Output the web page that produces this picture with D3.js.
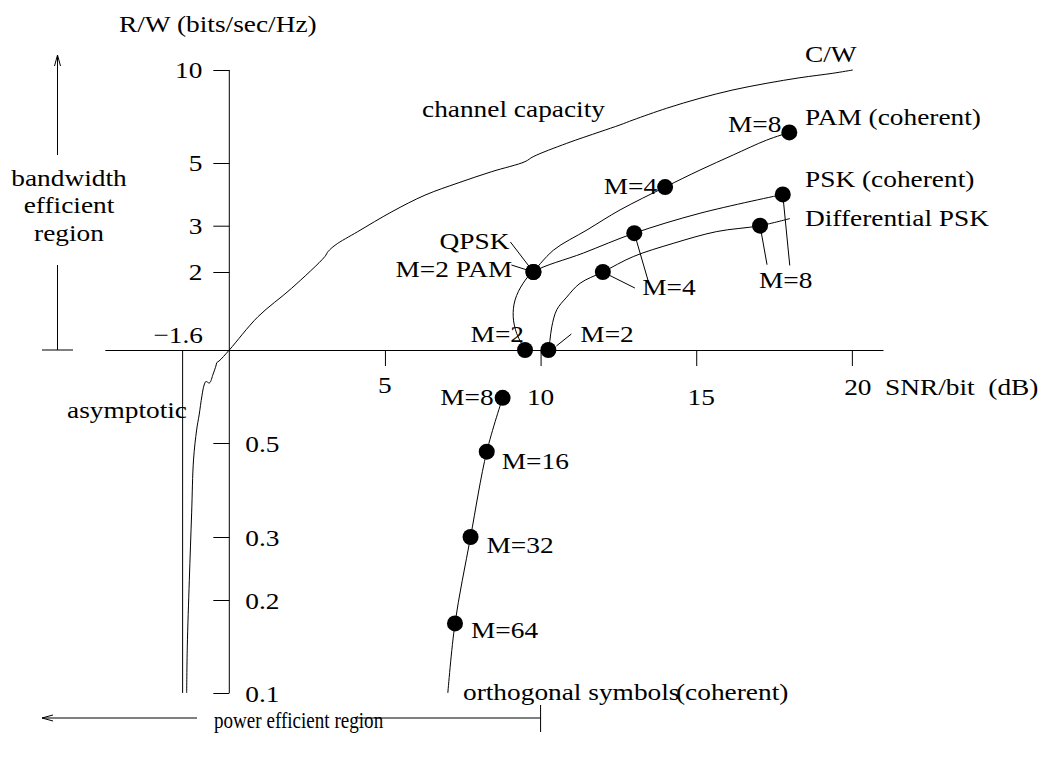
<!DOCTYPE html>
<html><head><meta charset="utf-8">
<script src="https://cdn.jsdelivr.net/npm/d3@7"></script>
<style>
body{margin:0;background:#fff;}
svg{display:block;}
text{font-family:"Liberation Serif","Times New Roman",serif;font-size:24px;fill:#000;white-space:pre;}
</style></head><body>
<svg id="chart" width="1061" height="758"></svg>
<script>
// ---------------- data ----------------
const capacitySNR = [-1.37,-1.35,-1.285,-1.21,-1.15,-1.05,-0.97,-0.88,-0.81,-0.75,-0.64,-0.52,-0.43,-0.40,-0.33,0,
  0.92,2.0,3.07,3.17,3.40,4.13,5.22,6.29,7.35,8.43,9.50,9.76,10.84,11.91,12.55,12.97,14.05,15.12,16.18,17.27,18.33,19.39,20.03];
const capacityRW  = [0.1,0.141,0.227,0.342,0.456,0.551,0.616,0.71,0.77,0.791,0.782,0.836,0.888,0.911,0.921,1,
  1.344,1.73,2.29,2.39,2.53,2.85,3.36,3.85,4.25,4.66,5.05,5.24,5.79,6.31,6.64,6.89,7.52,8.10,8.62,9.06,9.44,9.76,10];
const asymptoteSNR = -1.5;

const pamSNR = [9.77,10.41,11.49,12.55,14.0,15.12,16.19,17.26,17.99];
const pamRW  = [2,2.42,2.89,3.41,4.11,4.72,5.31,5.93,6.28];
const pamDotSNR = [9.77,14.0,17.99];
const pamDotRW  = [2,4.11,6.28];

const pskSNR = [9.50,9.23,9.12,9.18,9.44,9.77,11.37,13.01,15.12,17.78];
const pskRW  = [1,1.16,1.344,1.56,1.81,2,2.36,2.81,3.32,3.87];
const pskDotSNR = [9.50,9.77,13.01,17.78];
const pskDotRW  = [1,2,2.81,3.87];

const dpskSNR = [10.25,10.30,10.36,10.52,10.84,11.27,12.0,12.98,14.26,15.66,17.05,18.01];
const dpskRW  = [1,1.09,1.23,1.43,1.60,1.81,2,2.29,2.57,2.85,3.0,3.18];
const dpskDotSNR = [10.25,12.0,17.05];
const dpskDotRW  = [1,2,3.0];

const orthSNR = [8.78,8.27,7.75,7.25,7.02];
const orthRW  = [0.70,0.477,0.30,0.168,0.1];
const orthDotSNR = [8.78,8.27,7.75,7.25];
const orthDotRW  = [0.70,0.477,0.30,0.168];

const xTickValues = [5,10,15,20];
const xTickLabels = ["5","10","15","20"];
const yTickValues = [10,5,3,2,0.5,0.3,0.2,0.1];
const yTickLabels = ["10","5","3","2","0.5","0.3","0.2","0.1"];

// ---------------- layout ----------------
const svg = d3.select("#chart");
const x = d3.scaleLinear().domain([-4,21]).range([104.8,883]);
const y = d3.scaleLog().domain([0.1,0.2,0.3,0.5,1,2,3,5,10]).range([693,600,537,443,350,272,225.7,163,70]);
const SX = 1.14;
const INK = "#000";

function label(px, py, str, anchor, size, sx){
  svg.append("text")
    .attr("transform", `translate(${px},${py}) scale(${sx===undefined?SX:sx},1)`)
    .attr("text-anchor", anchor || "start")
    .style("font-size", (size||24)+"px")
    .text(str);
}
function seg(x1,y1,x2,y2){
  svg.append("line").attr("x1",x1).attr("y1",y1).attr("x2",x2).attr("y2",y2)
    .attr("stroke",INK).attr("stroke-width",1);
}

// x axis
const xAxis = d3.axisBottom(x).tickValues(xTickValues).tickSize(16).tickSizeOuter(0).tickFormat("");
const gx = svg.append("g").attr("transform",`translate(0,${y(1)})`).call(xAxis);
gx.selectAll("path,line").attr("stroke",INK);
const xLabelNudge = [[0,43],[0,55],[5,55],[6,45]];
xTickValues.forEach((v,i)=> label(x(v)+xLabelNudge[i][0], y(1)+xLabelNudge[i][1], xTickLabels[i], "middle"));

// y axis
const yAxis = d3.axisLeft(y).tickValues(yTickValues).tickSize(16).tickSizeOuter(0).tickFormat("");
const gy = svg.append("g").attr("transform",`translate(${x(0)},0)`).call(yAxis);
gy.select("path.domain").remove();
gy.selectAll("line").attr("stroke",INK);
seg(x(0), y(10), x(0), y(0.1));
yTickValues.forEach((v,i)=>{
  if (v>1) label(x(0)-27, y(v)+8, yTickLabels[i], "end");
  else label(x(0)+16, y(v)+9, yTickLabels[i], "start");
});

// asymptote
seg(x(asymptoteSNR), y(1), x(asymptoteSNR), y(0.1));

// curves
const line = d3.line().x(d=>x(d[0])).y(d=>y(d[1])).curve(d3.curveCatmullRom.alpha(0.5));
function curve(xs, ys){
  svg.append("path").attr("d", line(d3.zip(xs,ys))).attr("fill","none").attr("stroke",INK).attr("stroke-width",1);
}
curve(capacitySNR, capacityRW);
curve(pamSNR, pamRW);
curve(pskSNR, pskRW);
curve(dpskSNR, dpskRW);
curve(orthSNR, orthRW);

// leader lines (offsets from a dot)
function leader(sx, sy, a, b){
  seg(x(sx)+a[0], y(sy)+a[1], x(sx)+b[0], y(sy)+b[1]);
}
leader(pskDotSNR[1], pskDotRW[1], [0,0], [-23,-30]);   // QPSK
leader(pamDotSNR[0], pamDotRW[0], [0,0], [-22,-7]);    // M=2 PAM
leader(dpskDotSNR[0], dpskDotRW[0], [8,-4], [23,-16]); // M=2 right
leader(pskDotSNR[2], pskDotRW[2], [0,0], [16,55]);     // M=4
leader(dpskDotSNR[1], dpskDotRW[1], [0,0], [32,16]);   // M=4
leader(dpskDotSNR[2], dpskDotRW[2], [0,0], [7,39]);    // M=8
leader(pskDotSNR[3], pskDotRW[3], [0,0], [7,71]);      // M=8

// dots
function dots(xs, ys){
  svg.append("g").selectAll("circle").data(d3.zip(xs,ys)).join("circle")
    .attr("cx",d=>x(d[0])).attr("cy",d=>y(d[1])).attr("r",8).attr("fill",INK);
}
dots(pamDotSNR, pamDotRW);
dots(pskDotSNR, pskDotRW);
dots(dpskDotSNR, dpskDotRW);
dots(orthDotSNR, orthDotRW);

// point labels
function ptLabel(sx, sy, dx, dy, str, anchor){ label(x(sx)+dx, y(sy)+dy, str, anchor); }
ptLabel(pamDotSNR[2], pamDotRW[2], -8, 0, "M=8", "end");
ptLabel(pamDotSNR[1], pamDotRW[1], -8, 7, "M=4", "end");
ptLabel(pskDotSNR[1], pskDotRW[1], -24, -23, "QPSK", "end");
ptLabel(pamDotSNR[0], pamDotRW[0], -21, 5, "M=2 PAM", "end");
ptLabel(pskDotSNR[0], pskDotRW[0], -1, -8, "M=2", "end");
ptLabel(dpskDotSNR[0], dpskDotRW[0], 32, -8, "M=2", "start");
ptLabel(pskDotSNR[2], pskDotRW[2], 8, 62, "M=4", "start");
ptLabel(dpskDotSNR[2], dpskDotRW[2], -1, 62, "M=8", "start");
ptLabel(orthDotSNR[0], orthDotRW[0], -9, 7, "M=8", "end");
ptLabel(orthDotSNR[1], orthDotRW[1], 15, 17, "M=16", "start");
ptLabel(orthDotSNR[2], orthDotRW[2], 16, 16, "M=32", "start");
ptLabel(orthDotSNR[3], orthDotRW[3], 16, 15, "M=64", "start");

// titles & series names
label(119, 32, "R/W (bits/sec/Hz)");
label(885, 395, "SNR/bit  (dB)");
label(203, 343, "\u22121.6", "end");
label(187, 418, "asymptotic", "end");
label(422, 117, "channel capacity");
label(805, 62, "C/W");
label(805, 125, "PAM (coherent)");
label(805, 187, "PSK (coherent)");
label(805, 226, "Differential PSK");
label(463, 700, "orthogonal symbols");
label(676, 700, "(coherent)");
label(69, 186, "bandwidth", "middle");
label(69, 213, "efficient", "middle");
label(69, 241, "region", "middle");

// bandwidth efficient arrow
seg(57.5, 155, 57.5, 55);
svg.append("path").attr("d","M54.5,66L57.5,55L60.5,66").attr("fill","none").attr("stroke",INK);
seg(57.5, 265, 57.5, 350);
seg(42, 350, 73, 350);

// power efficient arrow
seg(197, 718, 42, 718);
svg.append("path").attr("d","M53,715L42,718L53,721").attr("fill","none").attr("stroke",INK);
seg(355, 718, x(10), 718);
seg(x(10), 705, x(10), 732);
label(214, 728, "power efficient region", "start", 23, 0.83);
</script>
</body></html>
